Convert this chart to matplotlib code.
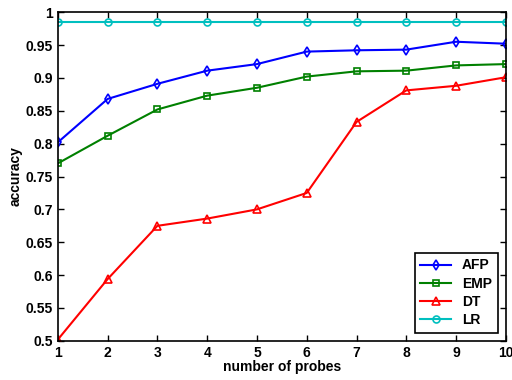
import matplotlib
matplotlib.use("Agg")
import matplotlib.pyplot as plt

plt.rcParams['font.family'] = ['Liberation Sans', 'DejaVu Sans']
plt.rcParams['font.weight'] = 'bold'

probes = [1, 2, 3, 4, 5, 6, 7, 8, 9, 10]
afp = [0.802, 0.868, 0.891, 0.911, 0.921, 0.940, 0.942, 0.943, 0.955, 0.952]
emp = [0.770, 0.812, 0.852, 0.873, 0.885, 0.902, 0.910, 0.911, 0.919, 0.921]
dt = [0.502, 0.594, 0.675, 0.686, 0.700, 0.725, 0.833, 0.881, 0.888, 0.901]
lr = [0.985] * 10

fig = plt.figure(figsize=(5.12, 3.8), dpi=100)
ax = fig.add_axes([0.113, 0.103, 0.875, 0.865])

ax.plot(probes, afp, color='blue', marker='d', ms=5, mfc='none', mew=1.2, lw=1.5, label='AFP')
ax.plot(probes, emp, color='green', marker='s', ms=4, mfc='none', mew=1.2, lw=1.5, label='EMP')
ax.plot(probes, dt, color='red', marker='^', ms=6, mfc='none', mew=1.2, lw=1.5, label='DT')
ax.plot(probes, lr, color='#00bfbf', marker='o', ms=5, mfc='none', mew=1.2, lw=1.5, label='LR')

ax.set_xlim(1, 10)
ax.set_ylim(0.5, 1)
ax.set_xticks(probes)
ax.set_yticks([0.5, 0.55, 0.6, 0.65, 0.7, 0.75, 0.8, 0.85, 0.9, 0.95, 1])
ax.set_yticklabels(['0.5', '0.55', '0.6', '0.65', '0.7', '0.75', '0.8', '0.85', '0.9', '0.95', '1'])
ax.tick_params(direction='in', top=True, right=True, labelsize=10, width=1, length=4)
for s in ax.spines.values():
    s.set_linewidth(1.2)

ax.set_xlabel('number of probes', fontsize=10, fontweight='bold', labelpad=0)
ax.set_ylabel('accuracy', fontsize=10, fontweight='bold', labelpad=2)

leg = ax.legend(loc='lower right', fontsize=10, fancybox=False, edgecolor='black',
                framealpha=1, handlelength=2.2, borderaxespad=0.6, labelspacing=0.3)
leg.get_frame().set_linewidth(1.2)

fig.savefig('out.png', dpi=100)
